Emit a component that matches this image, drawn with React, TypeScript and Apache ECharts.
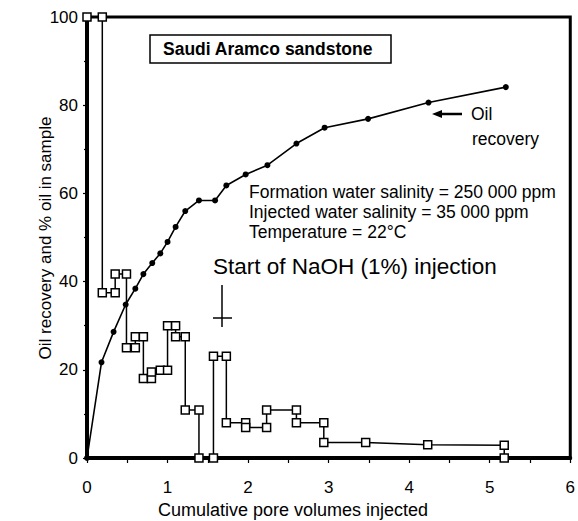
import React, { useEffect, useRef } from "react";
import * as echarts from "echarts";

const oilRecoveryX = [0, 0.18, 0.33, 0.48, 0.6, 0.7, 0.81, 0.91, 1.0, 1.1, 1.22, 1.39, 1.59, 1.73, 1.97, 2.24, 2.6, 2.95, 3.49, 4.24, 5.2];
const oilRecoveryY = [0, 21.7, 28.6, 34.8, 38.4, 41.7, 44.2, 46.4, 49.0, 52.4, 56.0, 58.4, 58.4, 61.8, 64.3, 66.4, 71.3, 74.9, 76.9, 80.6, 84.1];

const sampleX = [0, 0.19, 0.19, 0.35, 0.35, 0.49, 0.49, 0.6, 0.6, 0.7, 0.7, 0.8, 0.8, 0.91, 1.0, 1.0, 1.1, 1.1, 1.22, 1.22, 1.39, 1.39, 1.57, 1.57, 1.73, 1.73, 1.97, 1.97, 2.23, 2.23, 2.6, 2.6, 2.94, 2.94, 3.46, 4.23, 5.18, 5.18];
const sampleY = [100, 100, 37.5, 37.5, 41.7, 41.7, 25, 25, 27.5, 27.5, 18, 18, 19.5, 19.9, 19.9, 30, 30, 27.5, 27.5, 10.9, 10.9, 0, 0, 23.1, 23.1, 8, 8, 6.9, 6.9, 10.9, 10.9, 8, 8, 3.5, 3.5, 3.0, 2.9, 0];

const xTicks = [0, 1, 2, 3, 4, 5, 6];
const yTicks = [0, 20, 40, 60, 80, 100];

const boxTitle = "Saudi Aramco sandstone";
const conditions = [
  "Formation water salinity = 250 000 ppm",
  "Injected water salinity = 35 000 ppm",
  "Temperature = 22°C",
];
const naohLabel = "Start of NaOH (1%) injection";
const xTitle = "Cumulative pore volumes injected";
const yTitle = "Oil recovery and % oil in sample";

const FONT = "'Liberation Sans', Arial, Helvetica, sans-serif";

export default function App() {
  const ref = useRef<HTMLDivElement>(null);
  useEffect(() => {
    if (!ref.current) return;
    const chart = echarts.init(ref.current, undefined, { renderer: "svg" });
    const oil = oilRecoveryX.map((x, i) => [x, oilRecoveryY[i]]);
    const sample = sampleX.map((x, i) => [x, sampleY[i]]);
    chart.setOption({
      animation: false,
      backgroundColor: "#fff",
      grid: {
        left: 87,
        right: 4,
        top: 17,
        bottom: 63,
        show: true,
        borderColor: "#000",
        borderWidth: 3,
      },
      xAxis: {
        type: "value",
        min: xTicks[0],
        max: xTicks[xTicks.length - 1],
        interval: 1,
        axisLine: { show: true, lineStyle: { color: "#000", width: 4 } },
        axisTick: { show: true, length: 5, lineStyle: { color: "#000", width: 1.2 } },
        minorTick: { show: true, splitNumber: 2, length: 5, lineStyle: { color: "#000", width: 1.2 } },
        splitLine: { show: false },
        axisLabel: { color: "#000", fontSize: 17, fontFamily: FONT, margin: 21 },
      },
      yAxis: {
        type: "value",
        min: yTicks[0],
        max: yTicks[yTicks.length - 1],
        interval: 20,
        axisLine: { show: true, lineStyle: { color: "#000", width: 4 } },
        axisTick: { show: true, length: 4, lineStyle: { color: "#000", width: 1.2 } },
        minorTick: { show: true, splitNumber: 2, length: 3, lineStyle: { color: "#000", width: 1.2 } },
        splitLine: { show: false },
        axisLabel: { color: "#000", fontSize: 17, fontFamily: FONT, margin: 9 },
      },
      series: [
        {
          name: "Oil recovery",
          type: "line",
          data: oil,
          symbol: "circle",
          symbolSize: 6,
          lineStyle: { color: "#000", width: 1.6 },
          itemStyle: { color: "#000" },
          z: 3,
        },
        {
          name: "% oil in sample",
          type: "line",
          data: sample,
          symbol: "rect",
          symbolSize: 8,
          lineStyle: { color: "#000", width: 1.5 },
          itemStyle: { color: "#fff", borderColor: "#000", borderWidth: 1.5 },
          z: 4,
        },
      ],
      graphic: [
        {
          type: "rect",
          shape: { x: 150, y: 35, width: 241, height: 28 },
          style: { fill: "#fff", stroke: "#000", lineWidth: 1.5 },
          z: 10,
        },
        {
          type: "text",
          x: 163,
          y: 49,
          style: {
            text: boxTitle,
            fontSize: 17.5,
            fontWeight: "bold",
            fontFamily: FONT,
            fill: "#000",
            verticalAlign: "middle",
          },
          z: 11,
        },
        ...conditions.map((t, i) => ({
          type: "text",
          x: 249,
          y: 192 + i * 20,
          style: {
            text: t,
            fontSize: 17.5,
            fontFamily: FONT,
            fill: "#000",
            verticalAlign: "middle",
          },
          z: 10,
        })),
        {
          type: "text",
          x: 213,
          y: 266,
          style: {
            text: naohLabel,
            fontSize: 22.5,
            fontFamily: FONT,
            fill: "#000",
            verticalAlign: "middle",
          },
          z: 10,
        },
        {
          type: "line",
          shape: { x1: 222, y1: 285, x2: 222, y2: 327 },
          style: { stroke: "#000", lineWidth: 1.5 },
          z: 10,
        },
        {
          type: "line",
          shape: { x1: 213, y1: 318, x2: 232, y2: 318 },
          style: { stroke: "#000", lineWidth: 1.5 },
          z: 10,
        },
        {
          type: "line",
          shape: { x1: 440, y1: 114, x2: 462, y2: 114 },
          style: { stroke: "#000", lineWidth: 2.5 },
          z: 10,
        },
        {
          type: "polygon",
          shape: { points: [[432, 114], [442, 110], [442, 118]] },
          style: { fill: "#000" },
          z: 10,
        },
        {
          type: "text",
          x: 471,
          y: 114,
          style: { text: "Oil", fontSize: 17.5, fontFamily: FONT, fill: "#000", verticalAlign: "middle" },
          z: 10,
        },
        {
          type: "text",
          x: 472,
          y: 139,
          style: { text: "recovery", fontSize: 17.5, fontFamily: FONT, fill: "#000", verticalAlign: "middle" },
          z: 10,
        },
        {
          type: "text",
          x: 293,
          y: 510,
          style: {
            text: xTitle,
            fontSize: 18,
            fontFamily: FONT,
            fill: "#000",
            align: "center",
            verticalAlign: "middle",
          },
        },
        {
          type: "text",
          x: 45,
          y: 238,
          rotation: Math.PI / 2,
          style: {
            text: yTitle,
            fontSize: 17,
            fontFamily: FONT,
            fill: "#000",
            align: "center",
            verticalAlign: "middle",
          },
        },
      ],
    });
    return () => chart.dispose();
  }, []);
  return <div ref={ref} style={{ width: 578, height: 521, position: "absolute", left: 0, top: 0 }} />;
}
